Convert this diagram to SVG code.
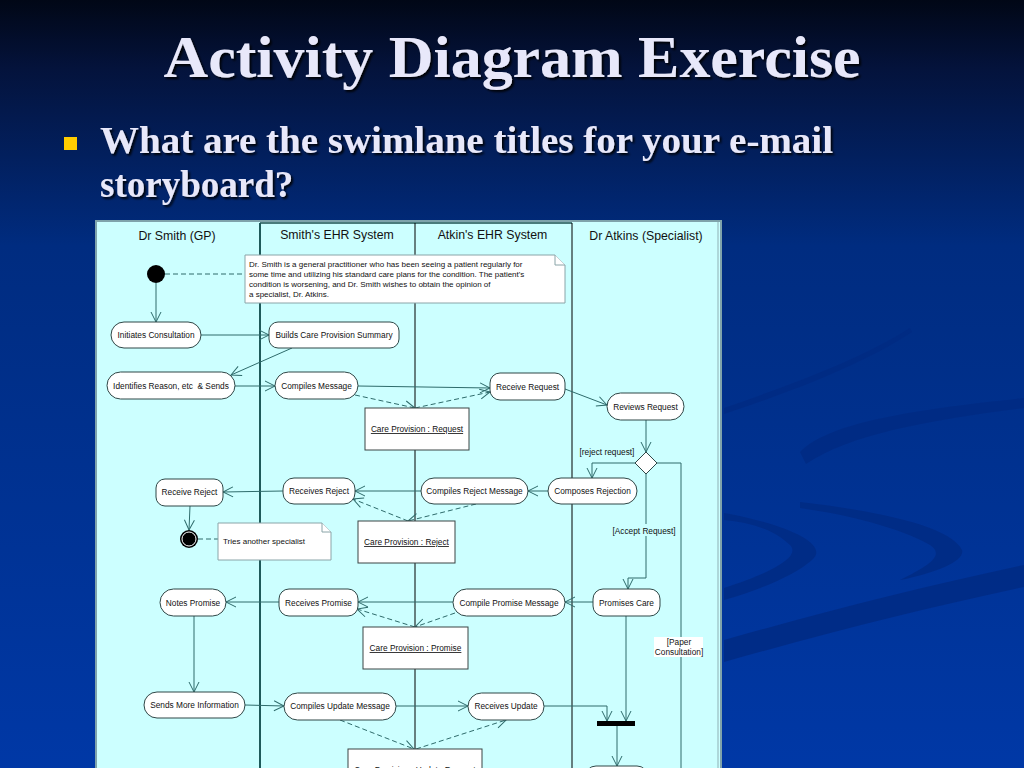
<svg xmlns="http://www.w3.org/2000/svg" width="1024" height="768" viewBox="0 0 1024 768">
<defs>
<linearGradient id="bg" x1="0" y1="0" x2="0" y2="1">
<stop offset="0" stop-color="#010716"/>
<stop offset="0.09" stop-color="#04133c"/>
<stop offset="0.32" stop-color="#002c80"/>
<stop offset="1" stop-color="#0038a6"/>
</linearGradient>
<filter id="sh" x="-5%" y="-20%" width="110%" height="150%">
<feDropShadow dx="2" dy="2" stdDeviation="0.8" flood-color="#000" flood-opacity="0.9"/>
</filter>
<marker id="arr" markerWidth="12" markerHeight="12" refX="11" refY="6" orient="auto" markerUnits="userSpaceOnUse">
<path d="M1,1 L11,6 L1,11" fill="none" stroke="#2e6b6b" stroke-width="1"/>
</marker>
<style>
.title{font-family:"Liberation Serif","Times New Roman",serif;font-weight:bold;fill:#e8e8fa}
.h{font-family:"Liberation Sans",Arial,sans-serif;font-size:12.3px;fill:#111;text-anchor:middle}
.t{font-family:"Liberation Sans",Arial,sans-serif;font-size:8.3px;fill:#111;text-anchor:middle}
.n{font-family:"Liberation Sans",Arial,sans-serif;font-size:8px;fill:#111}
.u{text-decoration:underline}
.act{fill:#fff;stroke:#2f4747;stroke-width:1}
.obj{fill:#fff;stroke:#3a4444;stroke-width:1}
.note{fill:#fff;stroke:#8aa4a8;stroke-width:1}
.c{fill:none;stroke:#2e6b6b;stroke-width:1;marker-end:url(#arr)}
.d{fill:none;stroke:#2e6b6b;stroke-width:1;stroke-dasharray:5,3;marker-end:url(#arr)}
.dn{fill:none;stroke:#2e6b6b;stroke-width:1;stroke-dasharray:5,3}
.sw{fill:#002a82;opacity:0.8}
</style>
</defs>

<!-- background -->
<rect x="0" y="0" width="1024" height="768" fill="url(#bg)"/>
<path class="sw" d="M800,452 C830,420 930,408 1024,398 L1024,408 C930,420 850,434 806,464 Z"/>
<path class="sw" d="M724,513 C790,525 830,545 812,560 C795,575 760,590 724,600 L724,588 C780,570 800,555 790,545 C775,530 750,522 724,520 Z"/>
<path class="sw" d="M800,502 C870,510 950,525 962,550 C965,560 940,572 900,580 C930,565 945,555 930,545 C900,528 850,515 800,508 Z"/>
<path class="sw" d="M724,640 C830,610 930,585 1024,565 L1024,587 C930,607 830,632 724,662 Z"/>
<path class="sw" d="M724,408 C790,385 860,360 910,328 L912,332 C860,366 790,392 724,414 Z" opacity="0.35"/>

<!-- title -->
<text class="title" x="512" y="77" font-size="60" text-anchor="middle" textLength="697" lengthAdjust="spacingAndGlyphs" filter="url(#sh)">Activity Diagram Exercise</text>
<rect x="64" y="137" width="13" height="13" fill="#ffcc00"/>
<text class="title" x="100" y="153" font-size="37" textLength="733" lengthAdjust="spacingAndGlyphs" filter="url(#sh)">What are the swimlane titles for your e-mail</text>
<text class="title" x="100" y="197" font-size="37" filter="url(#sh)">storyboard?</text>

<!-- diagram frame and lanes -->
<g id="lanes">
<rect x="96" y="221" width="625" height="560" fill="#ccffff" stroke="#7fa3ab" stroke-width="2"/>
<line x1="718" y1="222" x2="718" y2="768" stroke="#8fb0b4" stroke-width="1"/>
<line x1="260" y1="223" x2="572" y2="223" stroke="#1f4f4f" stroke-width="1.5"/>
<line x1="260" y1="223" x2="260" y2="768" stroke="#1f5a5a" stroke-width="2"/>
<line x1="415" y1="223" x2="415" y2="768" stroke="#000" stroke-width="1"/>
<line x1="572" y1="223" x2="572" y2="768" stroke="#000" stroke-width="1"/>
<text class="h" x="177" y="240">Dr Smith (GP)</text>
<text class="h" x="337" y="239">Smith's EHR System</text>
<text class="h" x="492.5" y="239">Atkin's EHR System</text>
<text class="h" x="646" y="240">Dr Atkins (Specialist)</text>
</g>

<!-- connectors -->
<g id="connectors">
<line class="dn" x1="165" y1="274" x2="244" y2="274"/>
<line class="dn" x1="198" y1="539" x2="218" y2="539"/>
<line class="c" x1="156" y1="283" x2="156" y2="322"/>
<line class="c" x1="201" y1="335" x2="269" y2="335"/>
<line class="c" x1="292" y1="348" x2="231" y2="375"/>
<line class="c" x1="235" y1="386" x2="275" y2="386"/>
<line class="c" x1="358" y1="386" x2="490" y2="388"/>
<line class="d" x1="355" y1="395" x2="415" y2="408"/>
<line class="d" x1="415" y1="408" x2="490" y2="392"/>
<line class="c" x1="565" y1="389" x2="607" y2="405"/>
<line class="c" x1="646" y1="420" x2="646" y2="452"/>
<polyline class="c" points="635,463 592,463 592,478"/>
<polyline class="c" points="646,474 646,578 628,578 628,589"/>
<polyline fill="none" stroke="#2e6b6b" stroke-width="1" points="657,463 681,463 681,768"/>
<line class="c" x1="548" y1="491" x2="528" y2="491"/>
<line class="c" x1="421" y1="491" x2="355" y2="491"/>
<line class="d" x1="476" y1="504" x2="408" y2="521"/>
<line class="d" x1="408" y1="521" x2="353" y2="499"/>
<line class="c" x1="283" y1="491" x2="223" y2="492"/>
<line class="c" x1="190" y1="506" x2="189" y2="530"/>
<line class="c" x1="593" y1="602" x2="565" y2="602"/>
<line class="c" x1="453" y1="602" x2="358" y2="602"/>
<line class="d" x1="455" y1="613" x2="415" y2="627"/>
<line class="d" x1="415" y1="627" x2="357" y2="609"/>
<line class="c" x1="279" y1="602" x2="226" y2="602"/>
<line class="c" x1="194" y1="616" x2="194" y2="692"/>
<line class="c" x1="245" y1="705" x2="284" y2="706"/>
<line class="c" x1="396" y1="706" x2="468" y2="706"/>
<line class="d" x1="340" y1="720" x2="414" y2="749"/>
<line class="d" x1="416" y1="749" x2="506" y2="720"/>
<polyline class="c" points="544,706 607,706 607,721"/>
<line class="c" x1="626" y1="616" x2="626" y2="721"/>
<line class="c" x1="617" y1="726" x2="617" y2="766"/>
</g>

<!-- guard labels -->
<g id="labels">
<text class="t" x="607" y="455">[reject request]</text>
<rect x="611" y="524" width="66" height="12" fill="#ccffff"/>
<text class="t" x="644" y="534">[Accept Request]</text>
<rect x="654" y="637" width="49" height="20" fill="#fff"/>
<text class="t" x="679" y="645">[Paper</text>
<text class="t" x="679" y="655">Consultation]</text>
</g>

<!-- nodes -->
<g id="n-start"><circle cx="156" cy="274" r="9" fill="#000"/></g>

<g id="n-note1">
<path class="note" d="M245,255 L555,255 L565,265 L565,303 L245,303 Z"/>
<path class="note" d="M555,255 L555,265 L565,265" fill="none"/>
<text class="n" x="249" y="267">Dr. Smith is a general practitioner who has been seeing a patient regularly for</text>
<text class="n" x="249" y="277">some time and utilizing his standard care plans for the condition. The patient's</text>
<text class="n" x="249" y="287">condition is worsening, and Dr. Smith wishes to obtain the opinion of</text>
<text class="n" x="249" y="297">a specialist, Dr. Atkins.</text>
</g>

<g id="n-initiates"><rect class="act" x="111" y="322" width="90" height="26" rx="13"/><text class="t" x="156" y="338">Initiates Consultation</text></g>
<g id="n-builds"><rect class="act" x="269" y="322" width="130" height="26" rx="9"/><text class="t" x="334" y="338">Builds Care Provision Summary</text></g>
<g id="n-identifies"><rect class="act" x="107" y="372" width="128" height="27" rx="13.5"/><text class="t" x="171" y="389" style="white-space:pre" xml:space="preserve">Identifies Reason, etc  &amp; Sends</text></g>
<g id="n-compiles"><rect class="act" x="275" y="372" width="83" height="27" rx="13.5"/><text class="t" x="316.5" y="389">Compiles Message</text></g>
<g id="n-receive-request"><rect class="act" x="490" y="373" width="75" height="27" rx="10"/><text class="t" x="527.5" y="390">Receive Request</text></g>
<g id="n-reviews"><rect class="act" x="607" y="393" width="77" height="27" rx="13.5"/><text class="t" x="645.5" y="410">Reviews Request</text></g>
<g id="n-obj-request"><rect class="obj" x="365" y="408" width="104" height="42"/><text class="t u" x="417" y="432">Care Provision : Request</text></g>
<g id="n-decision"><polygon points="646,452 657,463 646,474 635,463" fill="#fff" stroke="#2f4747"/></g>
<g id="n-composes"><rect class="act" x="548" y="478" width="89" height="26" rx="13"/><text class="t" x="592.5" y="494">Composes Rejection</text></g>
<g id="n-compiles-reject"><rect class="act" x="421" y="478" width="107" height="26" rx="13"/><text class="t" x="474.5" y="494">Compiles Reject Message</text></g>
<g id="n-receives-reject"><rect class="act" x="283" y="478" width="72" height="26" rx="11"/><text class="t" x="319" y="494">Receives Reject</text></g>
<g id="n-receive-reject"><rect class="act" x="156" y="479" width="67" height="27" rx="9"/><text class="t" x="189.5" y="495">Receive Reject</text></g>
<g id="n-end"><circle cx="189" cy="539" r="9" fill="#000"/><circle cx="189" cy="539" r="7" fill="none" stroke="#fff" stroke-width="1"/></g>
<g id="n-note2">
<path class="note" d="M218,523 L322,523 L331,532 L331,560 L218,560 Z"/>
<path class="note" d="M322,523 L322,532 L331,532" fill="none"/>
<text class="n" x="223" y="544" font-size="8.3">Tries another specialist</text>
</g>
<g id="n-obj-reject"><rect class="obj" x="358" y="521" width="97" height="42"/><text class="t u" x="406.5" y="545">Care Provision : Reject</text></g>
<g id="n-promises"><rect class="act" x="593" y="589" width="67" height="27" rx="10"/><text class="t" x="626.5" y="606">Promises Care</text></g>
<g id="n-compile-promise"><rect class="act" x="453" y="589" width="112" height="27" rx="13.5"/><text class="t" x="509" y="606">Compile Promise Message</text></g>
<g id="n-receives-promise"><rect class="act" x="279" y="589" width="79" height="27" rx="10"/><text class="t" x="318.5" y="606">Receives Promise</text></g>
<g id="n-notes-promise"><rect class="act" x="160" y="589" width="66" height="27" rx="13.5"/><text class="t" x="193" y="606">Notes Promise</text></g>
<g id="n-obj-promise"><rect class="obj" x="363" y="627" width="105" height="42"/><text class="t u" x="415.5" y="651">Care Provision : Promise</text></g>
<g id="n-sends"><rect class="act" x="144" y="692" width="101" height="26" rx="13"/><text class="t" x="194.5" y="708">Sends More Information</text></g>
<g id="n-compiles-update"><rect class="act" x="284" y="693" width="112" height="27" rx="13.5"/><text class="t" x="340" y="709">Compiles Update Message</text></g>
<g id="n-receives-update"><rect class="act" x="468" y="693" width="76" height="27" rx="13.5"/><text class="t" x="506" y="709">Receives Update</text></g>
<g id="n-fork"><rect x="597" y="721" width="38" height="5" fill="#000"/></g>
<g id="n-next"><rect class="act" x="585" y="766" width="63" height="22" rx="11"/></g>
<g id="n-obj-update"><rect class="obj" x="348" y="749" width="134" height="42"/><text class="t u" x="415" y="773">Care Provision : Update Request</text></g>
</svg>
